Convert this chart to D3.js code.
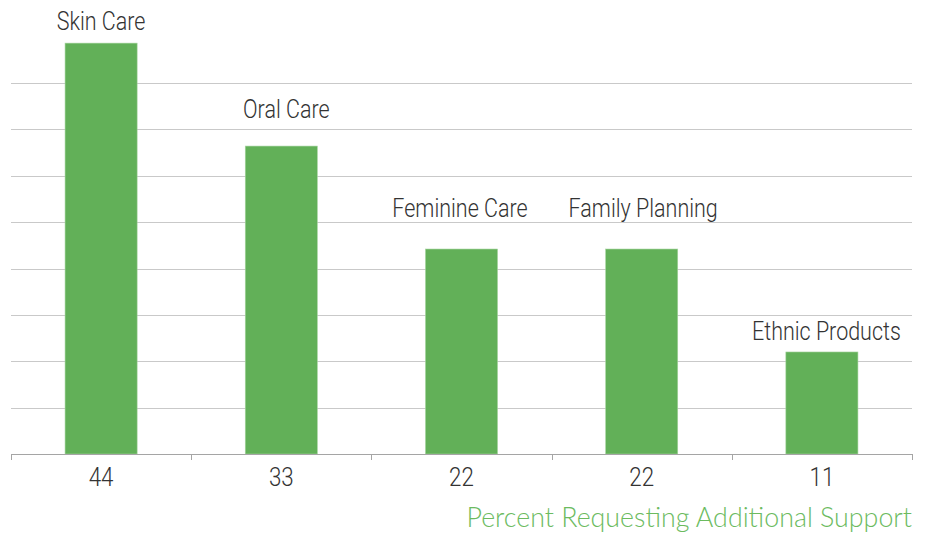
<!DOCTYPE html>
<html>
<head>
<meta charset="utf-8">
<script src="https://cdn.jsdelivr.net/npm/d3@7"></script>
<style>
  html, body { margin: 0; padding: 0; background: #fff; }
  svg { display: block; }
</style>
</head>
<body>
<script>
// data
const categories = ['Skin Care', 'Oral Care', 'Feminine Care', 'Family Planning', 'Ethnic Products'];
const values = [44.3, 33.2, 22.1, 22.1, 11.0];
const valueLabels = ['44', '33', '22', '22', '11'];
const gridTicks = [5, 10, 15, 20, 25, 30, 35, 40];
const axisTitle = 'Percent Requesting Additional Support';

// label nudges (px) so names sit where the original put them
const labelGap = [13, 28, 32, 32, 12];
const labelShift = [0, 5, -1.5, 1.5, 4.5];

const width = 932, height = 534;
const left = 11, right = 912, baseY = 454;
const squeeze = 0.86; // fake a condensed face

const svg = d3.select('body').append('svg')
  .attr('width', width)
  .attr('height', height);

const x = d3.scaleBand()
  .domain(categories)
  .range([left, right])
  .paddingInner(0.6)
  .paddingOuter(0.3);

const y = d3.scaleLinear()
  .domain([0, 45])
  .range([baseY, baseY - 45 * 9.275]);

const labelFont = 'Roboto, "Noto Sans", sans-serif';

// gridlines
svg.append('g')
  .selectAll('line')
  .data(gridTicks)
  .join('line')
  .attr('x1', left)
  .attr('x2', right)
  .attr('y1', d => Math.round(y(d)) + 0.5)
  .attr('y2', d => Math.round(y(d)) + 0.5)
  .style('stroke', '#c9c9c9')
  .style('stroke-width', 1);

// bars
svg.append('g')
  .selectAll('rect')
  .data(values)
  .join('rect')
  .attr('x', (d, i) => x(categories[i]))
  .attr('y', d => y(d))
  .attr('width', x.bandwidth())
  .attr('height', d => baseY - y(d))
  .style('fill', '#62b058')
  .style('stroke', '#a6d49f')
  .style('stroke-width', 0.6);

// x axis line + ticks at band edges
const bounds = d3.range(categories.length + 1).map(i => left + i * (right - left) / categories.length);

const axis = svg.append('g');
axis.append('line')
  .attr('x1', left)
  .attr('x2', right)
  .attr('y1', baseY + 0.5)
  .attr('y2', baseY + 0.5)
  .style('stroke', '#a5a5a5');
axis.selectAll('.tick')
  .data(bounds)
  .join('line')
  .attr('class', 'tick')
  .attr('x1', d => Math.round(d) + 0.5)
  .attr('x2', d => Math.round(d) + 0.5)
  .attr('y1', baseY)
  .attr('y2', baseY + 6)
  .style('stroke', '#a5a5a5');

// value labels under the axis
axis.selectAll('.val')
  .data(valueLabels)
  .join('text')
  .attr('class', 'val')
  .attr('transform', (d, i) => `translate(${x(categories[i]) + x.bandwidth() / 2},486) scale(${squeeze},1)`)
  .attr('text-anchor', 'middle')
  .style('font-family', labelFont)
  .style('font-weight', 300)
  .style('font-size', '26px')
  .style('fill', '#333')
  .text(d => d);

// category names above bars
svg.append('g')
  .selectAll('text')
  .data(categories)
  .join('text')
  .attr('transform', (d, i) =>
    `translate(${x(d) + x.bandwidth() / 2 + labelShift[i]},${y(values[i]) - labelGap[i]}) scale(${squeeze},1)`)
  .attr('text-anchor', 'middle')
  .style('font-family', labelFont)
  .style('font-weight', 300)
  .style('font-size', '25px')
  .style('fill', '#333')
  .text(d => d);

// axis title
svg.append('text')
  .attr('x', right)
  .attr('y', 527)
  .attr('text-anchor', 'end')
  .style('font-family', 'Lato, "Open Sans", sans-serif')
  .style('font-weight', 300)
  .style('font-size', '26.8px')
  .style('fill', '#6cbb5f')
  .text(axisTitle);
</script>
</body>
</html>
